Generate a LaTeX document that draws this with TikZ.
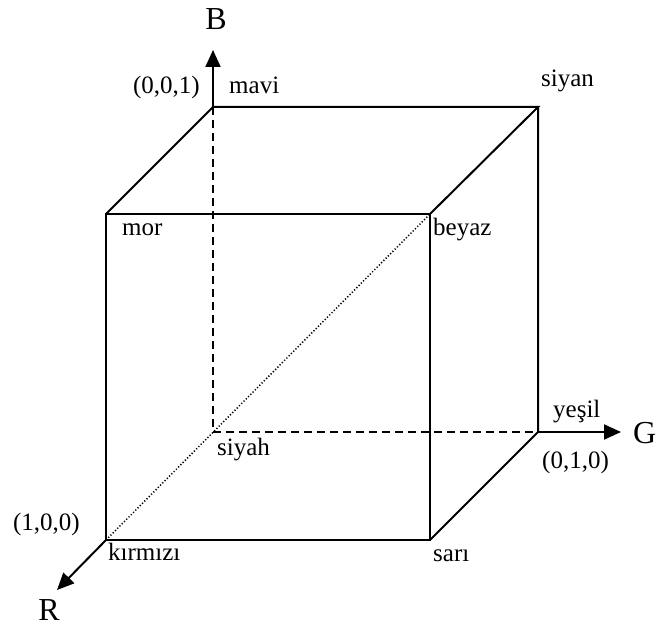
\documentclass[tikz,border=0pt]{standalone}
\usepackage{fontspec}
\setmainfont{Liberation Serif}
\usetikzlibrary{arrows.meta}
\begin{document}
\begin{tikzpicture}[x=1pt,y=-1pt,
  edge/.style={line width=2pt},
  hidden/.style={line width=1.8pt, dash pattern=on 8pt off 5pt},
  diag/.style={line width=1.5pt, dash pattern=on 1.2pt off 2pt},
  axis/.style={line width=2pt, -{Triangle[length=17pt,width=15pt]}},
  lbl/.style={inner sep=0pt, font=\fontsize{25}{28}\selectfont},
  axlbl/.style={inner sep=0pt, font=\fontsize{32}{34}\selectfont}]
\useasboundingbox (0,0) rectangle (658,628);
% vertices
\coordinate (mavi) at (213,107);
\coordinate (siyan) at (538,107);
\coordinate (siyah) at (213,432);
\coordinate (yesil) at (538,432);
\coordinate (mor) at (106,214);
\coordinate (beyaz) at (430,214);
\coordinate (kirmizi) at (106,540);
\coordinate (sari) at (430,540);
\coordinate (Btip) at (213,50);
\coordinate (Gtip) at (621,432);
\coordinate (Rtip) at (57,590);
% hidden edges
\draw[hidden] (mavi) -- (siyah);
\draw[hidden] (siyah) -- (yesil);
\draw[diag] (kirmizi) -- (beyaz);
% visible edges
\draw[edge] (mor) -- (beyaz) -- (sari) -- (kirmizi) -- cycle;
\draw[edge] (mor) -- (mavi) -- (siyan) -- (beyaz);
\draw[edge] (siyan) -- (yesil) -- (sari);
% axes
\draw[axis] (mavi) -- (Btip);
\draw[axis] (yesil) -- (Gtip);
\draw[axis] (kirmizi) -- (Rtip);
% labels
\node[axlbl, anchor=base] (B) at (216,30) {B};
\node[axlbl, anchor=base west] (G) at (633,443) {G};
\node[axlbl, anchor=base] (R) at (49,620) {R};
\node[lbl, anchor=base west] (lmavi) at (229,94) {mavi};
\node[lbl, anchor=base east] (l001) at (200,94) {(0,0,1)};
\node[lbl, anchor=base west] (lsiyan) at (541,87) {siyan};
\node[lbl, anchor=base west] (lmor) at (122,236) {mor};
\node[lbl, anchor=base west] (lbeyaz) at (433,236) {beyaz};
\node[lbl, anchor=base west] (lsiyah) at (217,455) {siyah};
\node[lbl, anchor=base west] (lyesil) at (553,417) {yeşil};
\node[lbl, anchor=base west] (l010) at (542,468) {(0,1,0)};
\node[lbl, anchor=base east] (l100) at (80,530) {(1,0,0)};
\node[lbl, anchor=base west] (lkirmizi) at (108,560) {kırmızı};
\node[lbl, anchor=base west] (lsari) at (433,561) {sarı};
\end{tikzpicture}
\end{document}
